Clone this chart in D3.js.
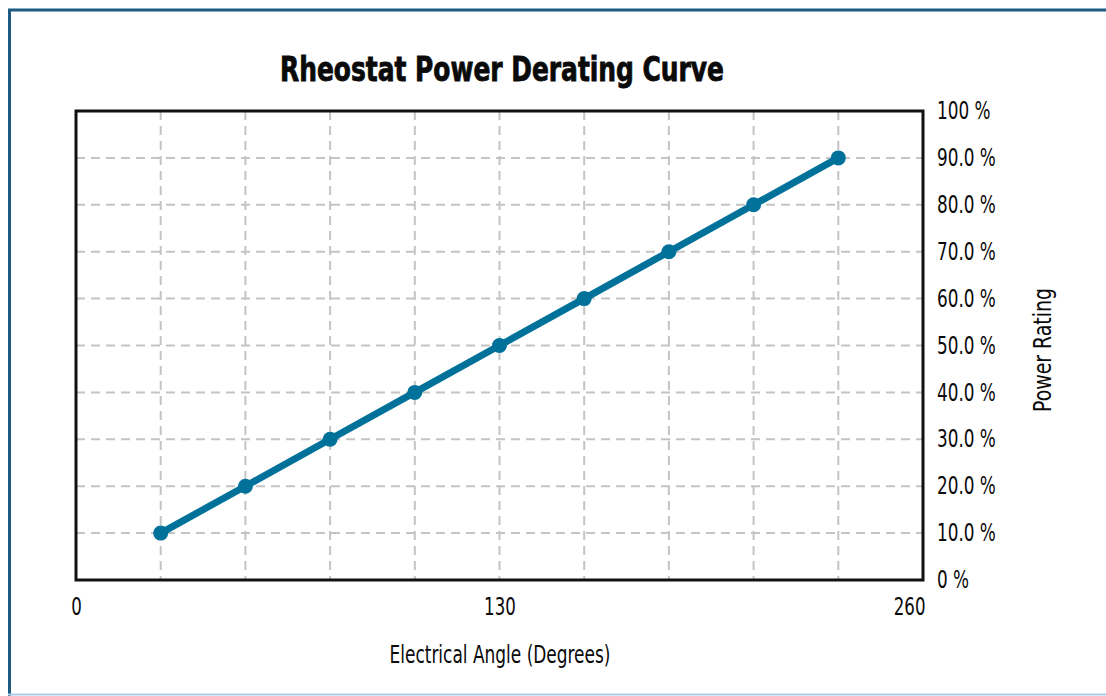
<!DOCTYPE html>
<html>
<head>
<meta charset="utf-8">
<script src="https://cdn.jsdelivr.net/npm/d3@7"></script>
<style>
  body { margin: 0; background: #fff; }
  text { font-family: "Liberation Sans Narrow", "DejaVu Sans Condensed", sans-serif; fill: #0a0a0a; }
</style>
</head>
<body>
<div id="chart"></div>
<script>
var angles = [26, 52, 78, 104, 130, 156, 182, 208, 234];
var powerRating = [10, 20, 30, 40, 50, 60, 70, 80, 90];
var xTicks = [0, 130, 260];
var xGrid = [0, 26, 52, 78, 104, 130, 156, 182, 208, 234, 260];
var yTicks = [0, 10, 20, 30, 40, 50, 60, 70, 80, 90, 100];
var yTickLabels = ["0 %", "10.0 %", "20.0 %", "30.0 %", "40.0 %", "50.0 %", "60.0 %", "70.0 %", "80.0 %", "90.0 %", "100 %"];

var margin = {top: 111, right: 183, bottom: 116, left: 76},
    width = 1106 - margin.left - margin.right,
    height = 696 - margin.top - margin.bottom;

var squeeze = 0.74;  // narrow look of the original font
var ySqueeze = 0.78;

var svg = d3.select("#chart")
  .append("svg")
    .attr("width", 1106)
    .attr("height", 696);

// frame around the whole picture
svg.append("line").attr("x1", 8).attr("x2", 1106).attr("y1", 10).attr("y2", 10)
  .attr("stroke", "#1d5b82").attr("stroke-width", 3);
svg.append("line").attr("x1", 9.5).attr("x2", 9.5).attr("y1", 9).attr("y2", 696)
  .attr("stroke", "#1d5b82").attr("stroke-width", 3);
svg.append("line").attr("x1", 8).attr("x2", 1106).attr("y1", 694.5).attr("y2", 694.5)
  .attr("stroke", "#a9cdea").attr("stroke-width", 2);

var g = svg.append("g")
  .attr("transform", "translate(" + margin.left + "," + margin.top + ")");

var x = d3.scaleLinear().domain([0, 260]).range([0, width]);
var y = d3.scaleLinear().domain([0, 100]).range([height, 0]);

// grid
g.selectAll(".vgrid").data(xGrid.slice(1, -1)).enter().append("line")
  .attr("x1", function(d) { return x(d); })
  .attr("x2", function(d) { return x(d); })
  .attr("y1", 0).attr("y2", height)
  .attr("stroke", "#c4c4c4").attr("stroke-width", 2)
  .attr("stroke-dasharray", "9,6");
g.selectAll(".hgrid").data(yTicks.slice(1, -1)).enter().append("line")
  .attr("x1", 0).attr("x2", width)
  .attr("y1", function(d) { return y(d); })
  .attr("y2", function(d) { return y(d); })
  .attr("stroke", "#c4c4c4").attr("stroke-width", 2)
  .attr("stroke-dasharray", "9,6");

// plot frame
g.append("rect")
  .attr("x", 0).attr("y", 0).attr("width", width).attr("height", height)
  .attr("fill", "none").attr("stroke", "#111").attr("stroke-width", 3);

// x axis labels
var xAxis = g.append("g")
  .attr("transform", "translate(0," + height + ")")
  .call(d3.axisBottom(x).tickValues(xTicks).tickSize(0).tickPadding(17).tickFormat(d3.format("d")));
xAxis.select(".domain").remove();
xAxis.selectAll("text")
  .style("font-size", "25px")
  .style("font-family", "'Liberation Sans Narrow', 'DejaVu Sans Condensed', sans-serif")
  .attr("fill", "#0a0a0a")
  .attr("text-anchor", function(d) { return d === 260 ? "end" : "middle"; })
  .attr("x", function(d) { return d === 260 ? 2 / squeeze : 0; })
  .attr("transform", "scale(" + squeeze + ",1)");

// y axis labels on the right
var yAxis = g.append("g")
  .attr("transform", "translate(" + width + ",0)")
  .call(d3.axisRight(y).tickValues(yTicks).tickSize(0)
    .tickFormat(function(d, i) { return yTickLabels[i]; }));
yAxis.select(".domain").remove();
yAxis.selectAll("text")
  .style("font-size", "24px")
  .style("font-family", "'Liberation Sans Narrow', 'DejaVu Sans Condensed', sans-serif")
  .attr("fill", "#0a0a0a")
  .attr("x", 14 / ySqueeze)
  .attr("transform", "scale(" + ySqueeze + ",1)");

// line + points
var line = d3.line()
  .x(function(d, i) { return x(angles[i]); })
  .y(function(d) { return y(d); });

g.append("path")
  .datum(powerRating)
  .attr("fill", "none")
  .attr("stroke", "#00729a")
  .attr("stroke-width", 7)
  .attr("d", line);

g.selectAll(".pt").data(powerRating).enter().append("circle")
  .attr("cx", function(d, i) { return x(angles[i]); })
  .attr("cy", function(d) { return y(d); })
  .attr("r", 7.5)
  .attr("fill", "#00729a");

// titles
svg.append("text")
  .attr("x", 502).attr("y", 81)
  .attr("text-anchor", "middle")
  .style("font-size", "33px")
  .style("font-weight", "bold")
  .attr("stroke", "#0a0a0a")
  .attr("stroke-width", 0.8)
  .attr("textLength", 444)
  .attr("lengthAdjust", "spacingAndGlyphs")
  .text("Rheostat Power Derating Curve");

svg.append("text")
  .attr("x", 500).attr("y", 663)
  .attr("text-anchor", "middle")
  .style("font-size", "24px")
  .attr("textLength", 221)
  .attr("lengthAdjust", "spacingAndGlyphs")
  .text("Electrical Angle (Degrees)");

svg.append("text")
  .attr("transform", "translate(1051,350)rotate(-90)")
  .attr("text-anchor", "middle")
  .style("font-size", "24px")
  .attr("textLength", 124)
  .attr("lengthAdjust", "spacingAndGlyphs")
  .text("Power Rating");
</script>
</body>
</html>
